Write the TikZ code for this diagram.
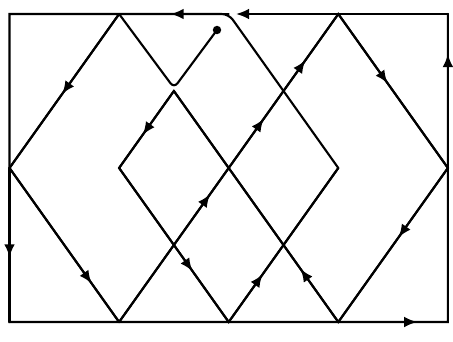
\documentclass[tikz,border=0pt]{standalone}
\usetikzlibrary{arrows.meta,decorations.markings}

\begin{document}
\begin{tikzpicture}[x=0.03cm,y=-0.03cm,
  line width=1.8pt,line cap=round,
  tip/.style={-{Latex[length=3.9mm,width=3.2mm]}},
  arr/.style={postaction={decorate,decoration={markings,
    mark=at position #1 with {\arrow{Latex[length=3.9mm,width=3.2mm]}}}}}]
\useasboundingbox (0,0) rectangle (453,342);
% grid of corners and diamond vertices
\foreach \i in {0,...,8}
  \foreach \j in {0,...,4}
    \coordinate (g\i\j) at ({9.5+54.8*\i},{14+77*\j});
\coordinate (dot) at (217,30);
\coordinate (valley) at (174,88);
\coordinate (stop) at (236,14);
% one stroke, from the dot round to the top edge
\draw[rounded corners=5pt] (dot) -- (valley) -- (g20);
\draw (g20) -- (g00) -- (g04) -- (g24) -- (g60) -- (g82) -- (g64) -- (g31) -- (g22) -- (g44) -- (g62);
\draw[rounded corners=6pt] (g62) -- (g40) -- (g20);
\draw (g20) -- (g02) -- (g24) -- (g84) -- (g80);
\draw[tip] (g80) -- (stop);
\fill (dot) circle (3.6pt);
% direction marks
\draw[arr=0.53] (g40) -- (g20);
\draw[arr=0.52] (g20) -- (g02);
\draw[arr=0.58] (g02) -- (g04);
\draw[arr=0.75] (g02) -- (g24);
\draw[arr=0.415,arr=0.66,arr=0.85] (g24) -- (g60);
\draw[arr=0.45] (g60) -- (g82);
\draw[arr=0.45] (g82) -- (g64);
\draw[arr=0.23] (g64) -- (g31);
\draw[arr=0.57] (g31) -- (g22);
\draw[arr=0.67] (g22) -- (g44);
\draw[arr=0.31] (g44) -- (g62);
\draw[arr=0.72] (g64) -- (g84);
\draw[arr=0.87] (g84) -- (g80);
\end{tikzpicture}
\end{document}
